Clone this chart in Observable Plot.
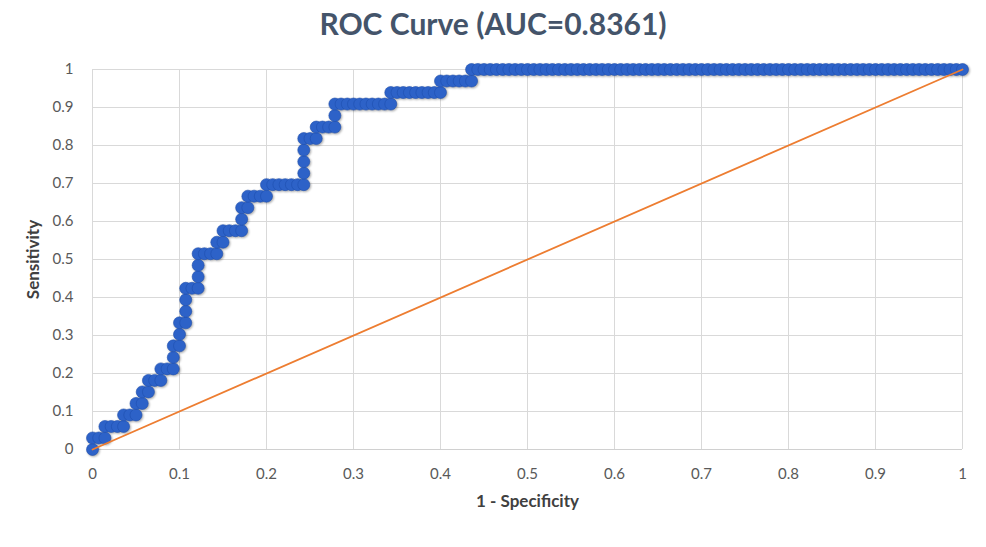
<!DOCTYPE html>
<html><head><meta charset="utf-8">
<script src="https://cdn.jsdelivr.net/npm/d3@7"></script>
<script src="https://cdn.jsdelivr.net/npm/@observablehq/plot@0.6"></script>
<style>
body{margin:0;background:#fff;font-family:Lato,"Open Sans",sans-serif;}
#title{height:50px;line-height:46px;text-align:center;font-size:30px;font-weight:700;color:#44546a;width:986px;}
#chart svg{display:block;}
</style></head><body>
<div id="title">ROC Curve (AUC=0.8361)</div>
<div id="chart"></div>
<script>
// totals used to turn counts into rates
const negatives = 140;
const positives = 33;

// false-positive counts of each ROC point
const fpCount = [
  0,
  0,1,2,
  2,3,4,5,
  5,6,7,
  7,8,
  8,9,
  9,10,11,
  11,12,13,
  13,
  13,14,
  14,
  14,15,
  15,
  15,
  15,16,17,
  17,
  17,
  17,18,19,20,
  20,21,
  21,22,23,24,
  24,
  24,25,
  25,26,27,28,
  28,29,30,31,32,33,34,
  34,
  34,
  34,
  34,35,36,
  36,37,38,39,
  39,
  39,40,41,42,43,44,45,46,47,48,
  48,49,50,51,52,53,54,55,56,
  56,57,58,59,60,61,
  61,62,63,64,65,66,67,68,69,70,
  71,72,73,74,75,76,77,78,79,80,
  81,82,83,84,85,86,87,88,89,90,
  91,92,93,94,95,96,97,98,99,100,
  101,102,103,104,105,106,107,108,109,110,
  111,112,113,114,115,116,117,118,119,120,
  121,122,123,124,125,126,127,128,129,130,
  131,132,133,134,135,136,137,138,139,140
];

// true-positive counts of each ROC point
const tpCount = [
  0,
  1,1,1,
  2,2,2,2,
  3,3,3,
  4,4,
  5,5,
  6,6,6,
  7,7,7,
  8,
  9,9,
  10,
  11,11,
  12,
  13,
  14,14,14,
  15,
  16,
  17,17,17,17,
  18,18,
  19,19,19,19,
  20,
  21,21,
  22,22,22,22,
  23,23,23,23,23,23,23,
  24,
  25,
  26,
  27,27,27,
  28,28,28,28,
  29,
  30,30,30,30,30,30,30,30,30,30,
  31,31,31,31,31,31,31,31,31,
  32,32,32,32,32,32,
  33,33,33,33,33,33,33,33,33,33,
  33,33,33,33,33,33,33,33,33,33,
  33,33,33,33,33,33,33,33,33,33,
  33,33,33,33,33,33,33,33,33,33,
  33,33,33,33,33,33,33,33,33,33,
  33,33,33,33,33,33,33,33,33,33,
  33,33,33,33,33,33,33,33,33,33,
  33,33,33,33,33,33,33,33,33,33
];

// reference (chance) line
const diagX = [0, 1];
const diagY = [0, 1];

const tickValues = [0, 0.1, 0.2, 0.3, 0.4, 0.5, 0.6, 0.7, 0.8, 0.9, 1];
const xLabel = "1 - Specificity";
const yLabel = "Sensitivity";

const points = fpCount.map((k, i) => ({fpr: k / negatives, tpr: tpCount[i] / positives}));
const diag = diagX.map((x, i) => ({x, y: diagY[i]}));

const chart = Plot.plot({
  width: 986,
  height: 497,
  marginLeft: 92,
  marginRight: 24,
  marginTop: 19,
  marginBottom: 98,
  style: {fontFamily: "Lato, 'Open Sans', sans-serif", fontSize: "15px", color: "#595959", background: "#fff"},
  x: {domain: [0, 1]},
  y: {domain: [0, 1]},
  marks: [
    Plot.gridX(tickValues, {stroke: "#d9d9d9", strokeOpacity: 1, strokeWidth: 1}),
    Plot.gridY(tickValues, {stroke: "#d9d9d9", strokeOpacity: 1, strokeWidth: 1}),
    Plot.ruleY([0], {stroke: "#d0d0d0", strokeWidth: 1.2}),
    Plot.axisX(tickValues, {tickSize: 0, tickPadding: 19, tickFormat: d => String(d), label: null, fill: "#595959"}),
    Plot.axisY(tickValues, {tickSize: 0, tickPadding: 19, tickFormat: d => String(d), label: null, fill: "#595959"}),
    Plot.dot(points, {x: "fpr", y: "tpr", r: 6, fill: "#2d62c8", stroke: "#1f4fae", strokeWidth: 0.6}),
    Plot.line(diag, {x: "x", y: "y", stroke: "#ed7d31", strokeWidth: 1.8}),
    Plot.text([xLabel], {frameAnchor: "bottom", dy: 57, text: d => d, fontWeight: "bold", fontSize: 17, fill: "#404040"}),
    Plot.text([yLabel], {frameAnchor: "left", dx: -59, rotate: -90, textAnchor: "middle", text: d => d, fontWeight: "bold", fontSize: 17, fill: "#404040"})
  ]
});
document.getElementById("chart").appendChild(chart);
chart.querySelectorAll('g[aria-label="dot"]').forEach(g => {
  g.style.filter = "drop-shadow(1px 1.5px 1px rgba(0,0,0,0.35))";
});
</script>
</body></html>
